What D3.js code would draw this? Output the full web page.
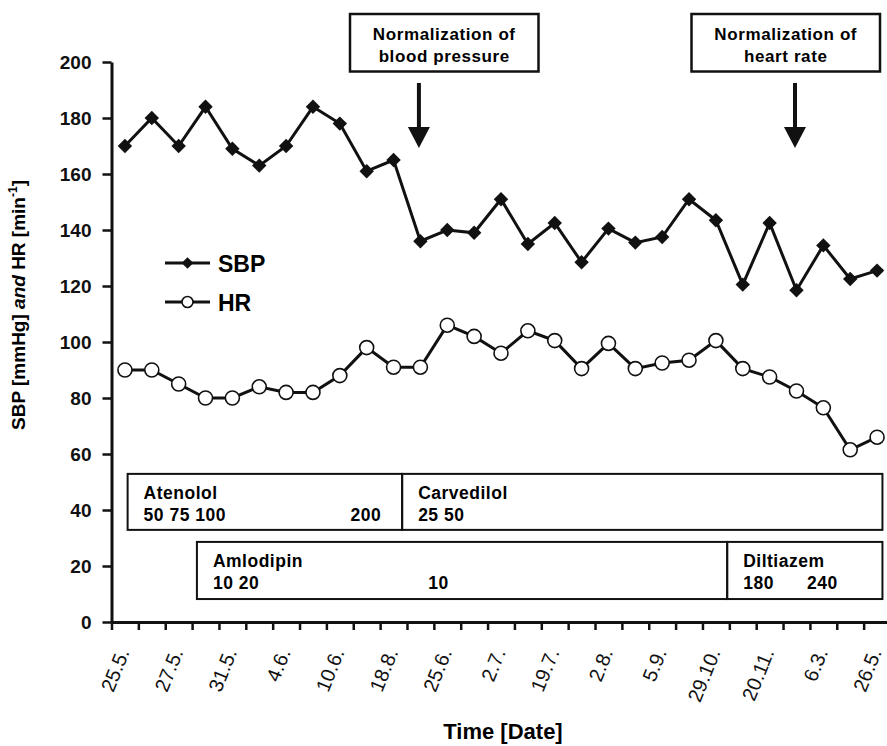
<!DOCTYPE html>
<html lang="en">
<head>
<meta charset="UTF-8">
<title>SBP and HR over time</title>
<script src="https://d3js.org/d3.v7.min.js"></script>
<style>
    body { margin: 0; background: #fff; }
    svg { display: block; font-family: "Liberation Sans", Arial, sans-serif; }
    .axis path, .axis line { stroke: #111; }
</style>
</head>
<body>
<div id="chart"></div>
<script>
    // measurements, one per visit
    var sbp = [170, 180, 170, 184, 169, 163, 170, 184, 178, 161, 165, 136, 140, 139, 151,
               135, 142.5, 128.5, 140.5, 135.5, 137.5, 151, 143.5, 120.5, 142.5, 118.5, 134.5, 122.5, 125.5];
    var hr = [90, 90, 85, 80, 80, 84, 82, 82, 88, 98, 91, 91, 106, 102, 96,
              104, 100.5, 90.5, 99.5, 90.5, 92.5, 93.5, 100.5, 90.5, 87.5, 82.5, 76.5, 61.5, 66];
    // date labels, shown on every second visit
    var dateLabels = ["25.5.", "27.5.", "31.5.", "4.6.", "10.6.", "18.8.", "25.6.", "2.7.",
                      "19.7.", "2.8.", "5.9.", "29.10.", "20.11.", "6.3.", "26.5."];
    var yTicks = [0, 20, 40, 60, 80, 100, 120, 140, 160, 180, 200];

    // medication periods (visit index units) and rows (value units)
    var drugNames = ["Atenolol", "Carvedilol", "Amlodipin", "Diltiazem"];
    var drugStart = [0.6, 10.82, 3.18, 22.92];
    var drugEnd = [10.82, 28.7, 22.92, 28.7];
    var drugRowTop = [52.9, 52.9, 28.6, 28.6];
    var drugRowBottom = [32.9, 32.9, 8.2, 8.2];
    // dose steps: drug index, visit index where text starts, text
    var doseDrug = [0, 0, 1, 2, 2, 3, 3];
    var doseAt = [0.6, 8.3, 10.82, 3.18, 11.2, 22.92, 25.3];
    var doseText = ["50 75 100", "200", "25 50", "10 20", "10", "180", "240"];

    // events marked with arrows
    var eventAt = [11, 25];
    var eventLines = [["Normalization of", "blood pressure"], ["Normalization of", "heart rate"]];

    var width = 887, height = 746;
    var svg = d3.select("#chart").append("svg")
        .attr("width", width)
        .attr("height", height);

    var x = d3.scaleLinear().domain([0, 29]).range([111.5, 890.5]);
    var px = function(i) { return x(i + 0.5); };
    var y = d3.scaleLinear().domain([0, 200]).range([622, 62]);

    // drug boxes first so lines sit on top
    var boxes = svg.append("g");
    drugNames.forEach(function(name, i) {
        var x0 = x(drugStart[i]), x1 = x(drugEnd[i]);
        var y0 = y(drugRowTop[i]), y1 = y(drugRowBottom[i]);
        boxes.append("rect")
            .attr("x", x0).attr("y", y0)
            .attr("width", x1 - x0).attr("height", y1 - y0)
            .attr("fill", "none").attr("stroke", "#111").attr("stroke-width", 2);
        boxes.append("text")
            .attr("x", x0 + 16).attr("y", y0 + 25)
            .style("font-size", "17.5px").style("font-weight", "bold").style("letter-spacing", "0.5px")
            .text(name);
    });
    doseText.forEach(function(t, j) {
        var d = doseDrug[j];
        boxes.append("text")
            .attr("x", x(doseAt[j]) + 16).attr("y", y(drugRowTop[d]) + 47)
            .style("font-size", "17.5px").style("font-weight", "bold").style("letter-spacing", "0.5px")
            .text(t);
    });

    // axes
    svg.append("g")
        .attr("class", "axis")
        .attr("transform", "translate(" + x(0) + ",0)")
        .call(d3.axisLeft(y).tickValues(yTicks).tickSize(9).tickSizeOuter(0).tickPadding(11))
        .call(function(g) {
            g.select(".domain").attr("stroke-width", 3);
            g.selectAll(".tick line").attr("stroke-width", 2.5);
            g.selectAll(".tick text")
                .attr("fill", "#111")
                .style("font-family", "'Liberation Sans', Arial, sans-serif")
                .style("font-size", "19px").style("font-weight", "bold");
        });

    svg.append("g")
        .attr("class", "axis")
        .attr("transform", "translate(0," + y(0) + ")")
        .call(d3.axisBottom(x).tickValues(d3.range(0, 30)).tickFormat("").tickSize(8).tickSizeOuter(0))
        .call(function(g) {
            g.select(".domain").attr("stroke-width", 3);
            g.selectAll(".tick line").attr("stroke-width", 2.5);
        });

    svg.append("g").selectAll("text")
        .data(dateLabels)
        .enter().append("text")
        .attr("transform", function(d, k) {
            return "translate(" + (px(2 * k) + 5) + "," + 652 + ") rotate(-68)";
        })
        .attr("text-anchor", "end")
        .style("font-size", "20px")
        .attr("fill", "#111")
        .text(function(d) { return d; });

    svg.append("text")
        .attr("x", 503).attr("y", 739)
        .attr("text-anchor", "middle")
        .style("font-size", "22px").style("font-weight", "bold")
        .text("Time [Date]");

    var yl = svg.append("text")
        .attr("transform", "translate(25," + 305 + ") rotate(-90)")
        .attr("text-anchor", "middle")
        .style("font-size", "19px").style("font-weight", "bold");
    yl.append("tspan").text("SBP [mmHg] ");
    yl.append("tspan").style("font-style", "italic").text("and");
    yl.append("tspan").text(" HR [min");
    yl.append("tspan").attr("dy", -8).style("font-size", "12px").text("-1");
    yl.append("tspan").attr("dy", 8).text("]");

    // series
    var line = d3.line()
        .x(function(d, i) { return px(i); })
        .y(function(d) { return y(d); });

    svg.append("path").datum(hr)
        .attr("d", line).attr("fill", "none").attr("stroke", "#111").attr("stroke-width", 3);
    svg.append("path").datum(sbp)
        .attr("d", line).attr("fill", "none").attr("stroke", "#111").attr("stroke-width", 3);

    var diamond = d3.symbol().type(d3.symbolSquare).size(104);
    svg.append("g").selectAll("path")
        .data(sbp)
        .enter().append("path")
        .attr("d", diamond)
        .attr("transform", function(d, i) { return "translate(" + px(i) + "," + y(d) + ") rotate(45)"; })
        .attr("fill", "#111");

    svg.append("g").selectAll("circle")
        .data(hr)
        .enter().append("circle")
        .attr("cx", function(d, i) { return px(i); })
        .attr("cy", function(d) { return y(d); })
        .attr("r", 7)
        .attr("fill", "#fff").attr("stroke", "#111").attr("stroke-width", 1.6);

    // legend
    var legend = svg.append("g");
    legend.append("line").attr("x1", 165).attr("x2", 210).attr("y1", 263).attr("y2", 263)
        .attr("stroke", "#111").attr("stroke-width", 3);
    legend.append("path").attr("d", d3.symbol().type(d3.symbolSquare).size(68))
        .attr("transform", "translate(187.5,263) rotate(45)").attr("fill", "#111");
    legend.append("text").attr("x", 218).attr("y", 272)
        .style("font-size", "23px").style("font-weight", "bold").text("SBP");
    legend.append("line").attr("x1", 165).attr("x2", 210).attr("y1", 302).attr("y2", 302)
        .attr("stroke", "#111").attr("stroke-width", 3);
    legend.append("circle").attr("cx", 187.5).attr("cy", 302).attr("r", 5.5)
        .attr("fill", "#fff").attr("stroke", "#111").attr("stroke-width", 1.6);
    legend.append("text").attr("x", 218).attr("y", 311)
        .style("font-size", "23px").style("font-weight", "bold").text("HR");

    // annotations
    var boxX = [350, 691.5];
    var boxW = 188.5;
    eventAt.forEach(function(e, k) {
        var g = svg.append("g");
        g.append("rect")
            .attr("x", boxX[k]).attr("y", 14).attr("width", boxW).attr("height", 57.5)
            .attr("fill", "#fff").attr("stroke", "#111").attr("stroke-width", 2.5);
        eventLines[k].forEach(function(t, j) {
            g.append("text")
                .attr("x", boxX[k] + boxW / 2).attr("y", 39.5 + j * 22)
                .attr("text-anchor", "middle")
                .style("font-size", "17px").style("font-weight", "bold").style("letter-spacing", "0.6px")
                .text(t);
        });
        var ax = px(e) - 1.5;
        g.append("line")
            .attr("x1", ax).attr("x2", ax).attr("y1", 83).attr("y2", 130)
            .attr("stroke", "#111").attr("stroke-width", 4);
        g.append("path")
            .attr("d", "M" + (ax - 11) + ",127L" + (ax + 11) + ",127L" + ax + ",148Z")
            .attr("fill", "#111");
    });
</script>
</body>
</html>
